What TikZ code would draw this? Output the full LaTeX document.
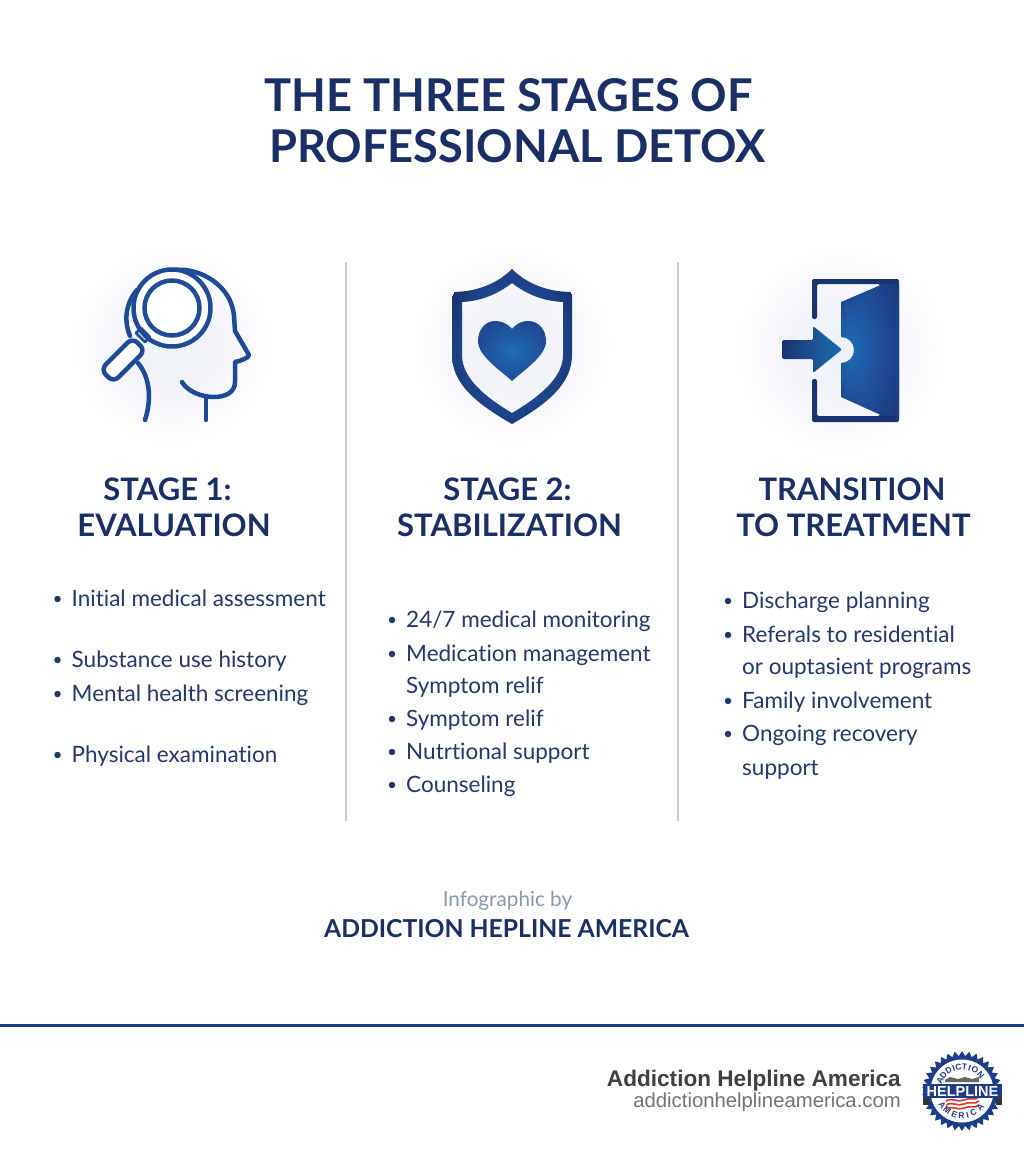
\documentclass[tikz,border=0pt]{standalone}
\usepackage{fontspec}
\setmainfont{Lato}[Ligatures=NoCommon]
\newfontfamily\arialf{Liberation Sans}
\usetikzlibrary{shapes.geometric}
\definecolor{navy}{HTML}{1A2F66}
\definecolor{body}{HTML}{24386B}
\definecolor{iconblue}{HTML}{1F4B96}
\definecolor{midblue}{HTML}{1E6DB5}
\definecolor{deepblue}{HTML}{1A3470}
\definecolor{ruleblue}{HTML}{1F3F94}
\definecolor{divider}{HTML}{C5CEDA}
\definecolor{glowc}{HTML}{EEF1F7}
\definecolor{creditc}{HTML}{8A99B0}
\definecolor{logoblue}{HTML}{1D3D86}
\definecolor{logored}{HTML}{D8352F}
\pgfdeclareradialshading{glowshade}{\pgfpoint{0bp}{0bp}}{color(0bp)=(glowc);color(12bp)=(glowc!75!white);color(25bp)=(white)}
\pgfdeclareradialshading{iconshade}{\pgfpoint{0bp}{0bp}}{color(0bp)=(midblue);color(17bp)=(iconblue);color(30bp)=(deepblue)}
\pgfdeclareradialshading{heartshade}{\pgfpoint{0bp}{0bp}}{color(0bp)=(midblue);color(25bp)=(iconblue);color(40bp)=(iconblue)}
\pgfdeclareradialshading{doorshade}{\pgfpoint{-21bp}{1bp}}{color(0bp)=(midblue);color(22bp)=(iconblue);color(42bp)=(deepblue)}
\tikzset{
  title/.style={text=navy,font=\fontsize{45.2}{46}\selectfont\bfseries,anchor=base,inner sep=0},
  heading/.style={text=navy,font=\fontsize{31}{32}\selectfont\bfseries,anchor=base,inner sep=0},
  item/.style={text=body,font=\fontsize{22.5}{24}\selectfont,anchor=base west,inner sep=0},
  dot/.style={circle,fill=body,minimum size=6.5,inner sep=0},
  sep/.style={draw=divider,line width=1.8},
  headline/.style={draw=iconblue,line width=4.5,line cap=round,line join=round},
  glow/.style={shading=glowshade,draw=none},
}
\newcommand{\itemat}[4]{\node[dot] (d#1) at (#2,#3-7) {};\node[item] (t#1) at (#2+14,#3) {#4};}
\begin{document}
\begin{tikzpicture}[x=1pt,y=-1pt]
\useasboundingbox (0,0) rectangle (1024,1154);
\fill[white] (0,0) rectangle (1024,1154);
% soft glows
\shade[glow] (172,345) circle (100);
\shade[glow] (512,345) circle (100);
\shade[glow] (840,350) circle (105);
% title
\node[title] (title1) at (508.5,111) {THE THREE STAGES OF};
\node[title] (title2) at (517.5,162) {PROFESSIONAL DETOX};
% dividers
\coordinate (d1a) at (346,262); \coordinate (d1b) at (346,821);
\coordinate (d2a) at (678,262); \coordinate (d2b) at (678,821);
\draw[sep] (d1a) -- (d1b);
\draw[sep] (d2a) -- (d2b);
% head icon
\draw[headline] (135,296) .. controls (145,278) and (165,268) .. (186,270)
  .. controls (212,274) and (232,292) .. (234,316) -- (235,331) -- (249,355)
  .. controls (249,358) and (240,361) .. (235,362) -- (235,382)
  .. controls (235,392) and (226,397) .. (214,397) .. controls (202,397) and (188,392) .. (182,382);
\draw[headline] (206,397) -- (206,420);
\draw[headline] (137,290) .. controls (125,304) and (124,322) .. (130,336);
\draw[headline] (138,363) .. controls (148,375) and (153,395) .. (145,420);
% magnifier
\filldraw[headline,fill=white] (172,308) circle (38.5);
\draw[headline] (172,308) circle (27.5);
\draw[iconblue,line width=2.5,line join=round] (136,333) -- (141,328) -- (150,337) -- (145,342) -- cycle;
\draw[headline,fill=white,rounded corners=7,rotate around={45:(123,360)}] (100.5,351) rectangle (145.5,369);
% shield
\shade[shading=iconshade,even odd rule]
  (512,269) .. controls (525,282) and (545,292) .. (572,292) -- (572,355)
  .. controls (572,385) and (545,405) .. (512,424)
  .. controls (479,405) and (452,385) .. (452,355) -- (452,292)
  .. controls (479,292) and (499,282) .. (512,269) -- cycle
  (512,283) .. controls (499,293) and (483,301) .. (462,302) -- (462,355)
  .. controls (462,378) and (485,397) .. (512,413)
  .. controls (539,397) and (563,378) .. (563,355) -- (563,302)
  .. controls (541,301) and (525,293) .. (512,283) -- cycle;
\shade[shading=heartshade]
  (512,329) .. controls (506,322) and (499,321) .. (495,321)
  .. controls (485,321) and (478,330) .. (478,341)
  .. controls (478,356) and (500,370) .. (512,381)
  .. controls (524,370) and (546,356) .. (546,341)
  .. controls (546,330) and (539,321) .. (528,321)
  .. controls (524,321) and (518,322) .. (512,329) -- cycle;
% door
\fill[deepblue,rounded corners=2] (812,319) -- (812,279) -- (899,279) -- (899,422) -- (812,422) -- (812,379) -- (817,379) -- (817,416) -- (880,416) -- (880,284) -- (817,284) -- (817,319) -- cycle;
\shade[shading=doorshade]
  (883,284) -- (841,302) -- (841,337) arc[start angle=-90,end angle=90,radius=13] -- (841,397) -- (883,416) -- (899,416) -- (899,284) -- cycle;
\shade[left color=deepblue,right color=midblue,rounded corners=1.5]
  (782,340) -- (813,340) -- (813,326) -- (842,349.5) -- (813,373) -- (813,359) -- (782,359) -- cycle;
% headings
\node[heading] (h1a) at (167.5,500) {STAGE 1:};
\node[heading] (h1b) at (174,536) {EVALUATION};
\node[heading] (h2a) at (507.5,500) {STAGE 2:};
\node[heading] (h2b) at (509.5,536) {STABILIZATION};
\node[heading] (h3a) at (852,500) {TRANSITION};
\node[heading] (h3b) at (853.5,536) {TO TREATMENT};
% lists
\itemat{a}{57.5}{606}{Initial medical assessment}
\itemat{b}{57.5}{667}{Substance use history}
\itemat{c}{57.5}{701}{Mental health screening}
\itemat{d}{57.5}{762}{Physical examination}
\itemat{e}{392}{627}{24/7 medical monitoring}
\itemat{f}{392}{661}{Medication management}
\node[item] (tf2) at (406,693) {Symptom relif};
\itemat{g}{392}{726}{Symptom relif}
\itemat{h}{392}{759}{Nutrtional support}
\itemat{i}{392}{792}{Counseling}
\itemat{j}{728}{608}{Discharge planning}
\itemat{k}{728}{642}{Referals to residential}
\node[item] (tk2) at (742,674) {or ouptasient programs};
\itemat{l}{728}{708}{Family involvement}
\itemat{m}{728}{741}{Ongoing recovery}
\node[item] (tm2) at (742,775) {support};
% credit
\node[anchor=base,inner sep=0,text=creditc,font=\fontsize{20.7}{20}\selectfont] (credit) at (507.5,906) {Infographic by};
\node[anchor=base,inner sep=0,text=navy,font=\fontsize{24.7}{25}\selectfont\bfseries] (creditb) at (506.5,937) {ADDICTION HEPLINE AMERICA};
% footer
\coordinate (ra) at (0,1025); \coordinate (rb) at (1024,1025);
\draw[ruleblue,line width=3] (ra) -- (rb);
\node[anchor=base east,inner sep=0,text=black!75,font=\arialf\fontsize{22.6}{24}\selectfont\bfseries] (brand) at (901,1086) {Addiction Helpline America};
\node[anchor=base east,inner sep=0,text=black!55,font=\arialf\fontsize{20.3}{20}\selectfont] (url) at (901,1107) {addictionhelplineamerica.com};
% logo
\node[star,star points=34,star point ratio=1.14,minimum size=80,inner sep=0,fill=logoblue] (burst) at (962,1091) {};
\fill[white] (962,1091) circle (31.5);
\fill[black!60] (945,1080) -- (950,1077) -- (958,1079) -- (965,1077) -- (972,1079) -- (979,1077) -- (979,1082) -- (945,1082) -- cycle;
\foreach \yy in {1100,1104,1108} {
  \draw[logored,line width=1.6] (946,\yy+1) .. controls (952,\yy-3) and (958,\yy+3) .. (964,\yy) .. controls (970,\yy-3) and (975,\yy+1) .. (979,\yy-3);
}
\fill[black!80] (923,1098) rectangle (929,1105);
\fill[black!80] (996,1098) rectangle (1002,1105);
\fill[logoblue] (923,1084) rectangle (1002,1098);
\node[inner sep=0,text=white,font=\arialf\fontsize{14.5}{15}\selectfont\bfseries] (helpline) at (962.5,1091.2) {HELPLINE};
\foreach \ch/\ang in {A/154,D/139,D/123,I/110,C/98,T/84,I/72,O/58,N/40} {
  \node[inner sep=0,text=logoblue,rotate=\ang-90,font=\arialf\fontsize{8.5}{8}\selectfont\bfseries] at ({962+24.5*cos(\ang)},{1091-24.5*sin(\ang)}) {\ch};
}
\foreach \ch/\ang in {A/216,M/233,E/252,R/269,I/283,C/298,A/318} {
  \node[inner sep=0,text=logoblue,rotate=\ang+90,font=\arialf\fontsize{8.5}{8}\selectfont\bfseries] at ({962+24.5*cos(\ang)},{1091-24.5*sin(\ang)}) {\ch};
}
\end{tikzpicture}
\end{document}
